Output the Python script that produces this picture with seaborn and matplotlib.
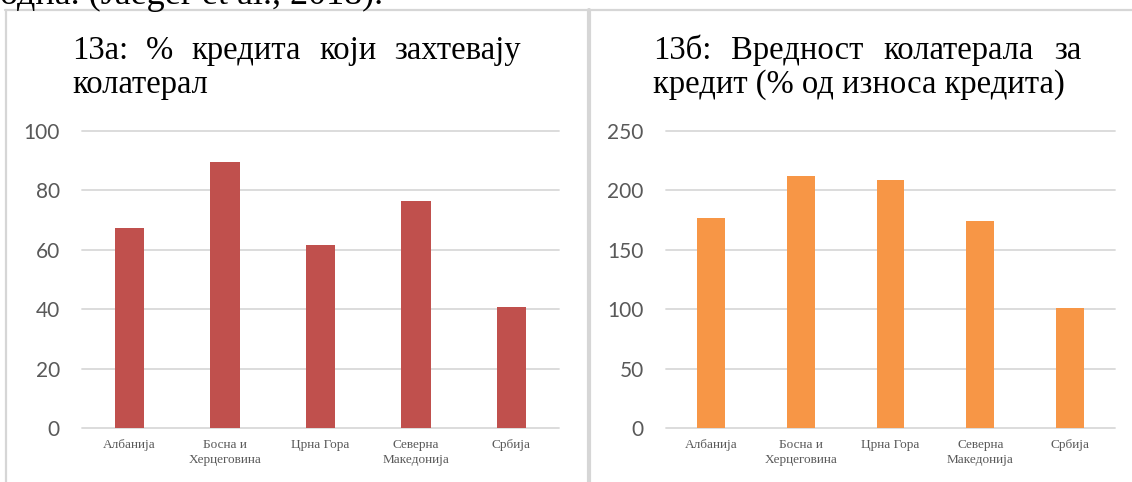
import matplotlib
matplotlib.use("Agg")
import matplotlib.pyplot as plt
import seaborn as sns
import pandas as pd
from matplotlib.lines import Line2D

# ---- data -------------------------------------------------------------
countries = ["Албанија", "Босна и\nХерцеговина", "Црна Гора",
             "Северна\nМакедонија", "Србија"]
loans_with_collateral = [67.2, 89.5, 61.5, 76.3, 40.7]      # % of loans
collateral_value = [177, 212, 208.5, 174.5, 101]           # % of loan amount
ticks_a = [0, 20, 40, 60, 80, 100]
ticks_b = [0, 50, 100, 150, 200, 250]

title_a_line1 = ["13а:", "%", "кредита", "који", "захтевају"]
title_a_line2 = "колатерал"
title_b_line1 = ["13б:", "Вредност", "колатерала", "за"]
title_b_line2 = "кредит (% од износа кредита)"
running_text = "одна. (Jaeger et al., 2018)."

color_a = "#C0504D"
color_b = "#F79646"
grid_color = "#d9d9d9"
label_color = "#595959"
serif = ["Liberation Serif", "DejaVu Serif"]

# ---- figure -----------------------------------------------------------
sns.set_theme(style="white")
plt.rcParams["font.family"] = ["Lato", "DejaVu Sans"]

W, H = 1132, 482
fig = plt.figure(figsize=(W / 100, H / 100), dpi=100)
fig.patch.set_facecolor("white")


def px_box(x0, x1, y_top, y_bot):
    return [x0 / W, 1 - y_bot / H, (x1 - x0) / W, (y_bot - y_top) / H]


ax_a = fig.add_axes(px_box(82, 559, 131, 428))
ax_b = fig.add_axes(px_box(666, 1115, 131, 428))


def draw_panel(ax, values, color, ticks):
    df = pd.DataFrame({"country": countries, "value": values})
    sns.barplot(data=df, x="country", y="value", color=color,
                saturation=1, width=0.31, ax=ax, linewidth=0)
    ax.set_ylim(ticks[0], ticks[-1])
    ax.set_yticks(ticks)
    ax.set_xlim(-0.5, 4.5)
    ax.set_axisbelow(True)
    ax.yaxis.grid(True, color=grid_color, lw=1.3)
    for gl in ax.get_ygridlines():
        gl.set_clip_on(False)
    for s in ax.spines.values():
        s.set_visible(False)
    ax.tick_params(axis="y", length=0, pad=16, labelsize=15,
                   labelcolor=label_color)
    ax.tick_params(axis="x", length=0, pad=8, labelsize=9.5,
                   labelcolor=label_color)
    for lab in ax.get_xticklabels():
        lab.set_fontfamily(serif)
        lab.set_linespacing(1.35)
    ax.set_xlabel("")
    ax.set_ylabel("")
    ax.set_facecolor("none")


draw_panel(ax_a, loans_with_collateral, color_a, ticks_a)
draw_panel(ax_b, collateral_value, color_b, ticks_b)

# ---- titles (justified first line, left-aligned second line) -----------
renderer = fig.canvas.get_renderer()
TITLE_SIZE = 23.5


def justified_line(words, x0, x1, y_base):
    texts = [fig.text(0, 1 - y_base / H, w, fontsize=TITLE_SIZE,
                      family=serif, va="baseline", ha="left", color="black")
             for w in words]
    widths = [t.get_window_extent(renderer).width for t in texts]
    gap = ((x1 - x0) - sum(widths)) / (len(words) - 1)
    x = x0
    for t, w in zip(texts, widths):
        t.set_x(x / W)
        x += w + gap


justified_line(title_a_line1, 72, 521, 59)
fig.text(72 / W, 1 - 93 / H, title_a_line2, fontsize=TITLE_SIZE,
         family=serif, va="baseline", ha="left", color="black")
justified_line(title_b_line1, 653, 1081, 59)
fig.text(653 / W, 1 - 93 / H, title_b_line2, fontsize=TITLE_SIZE,
         family=serif, va="baseline", ha="left", color="black")

# running text of the page, cut by the top edge
fig.text(0, 1 - 4 / H, running_text, fontsize=26, family=serif,
         va="baseline", ha="left", color="black")

# ---- chart frames -----------------------------------------------------
frame_kw = dict(color="#d6d6d6", transform=fig.transFigure)
fig.add_artist(Line2D([5 / W, 1], [1 - 9.5 / H, 1 - 9.5 / H], lw=1.6, **frame_kw))
fig.add_artist(Line2D([6 / W, 6 / W], [0, 1 - 9.5 / H], lw=1.6, **frame_kw))
fig.add_artist(Line2D([589 / W, 589 / W], [0, 1 - 9.5 / H], lw=3.0, **frame_kw))

fig.savefig("out.png", dpi=100, facecolor="white")
